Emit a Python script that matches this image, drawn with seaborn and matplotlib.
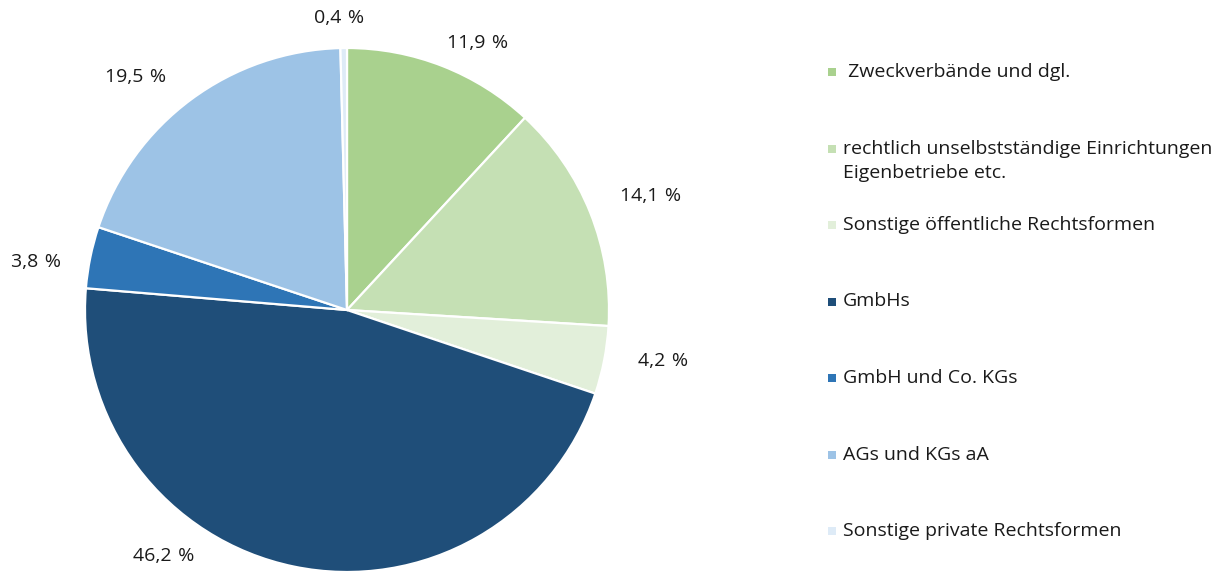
import numpy as np
import matplotlib.pyplot as plt
from matplotlib.patches import Rectangle
import seaborn as sns

# data
categories = [
    " Zweckverbände und dgl.",
    "rechtlich unselbstständige Einrichtungen\nEigenbetriebe etc.",
    "Sonstige öffentliche Rechtsformen",
    "GmbHs",
    "GmbH und Co. KGs",
    "AGs und KGs aA",
    "Sonstige private Rechtsformen",
]
shares = [11.9, 14.1, 4.2, 46.2, 3.8, 19.5, 0.4]
colors = ["#A9D18E", "#C5E0B4", "#E2EFDA", "#1F4E79", "#2E75B6", "#9DC3E6", "#DEEBF7"]

# label placement (radius factor, angle shift in degrees)
label_r = [1.134, 1.237, 1.22, 1.17, 1.20, 1.20, 1.115]
label_shift = [-4.7, -1.2, 1.9, -25.0, 2.9, 5.8, 0.9]

sns.set_theme(style="white")
plt.rcParams["font.family"] = ["Open Sans", "DejaVu Sans"]
FS = 14
TXT = "#1a1a1a"

W, H = 1217, 571
fig = plt.figure(figsize=(W / 100, H / 100), dpi=100)

cx, cy, r = 347, 310, 262
ax = fig.add_axes([(cx - r) / W, (H - cy - r) / H, 2 * r / W, 2 * r / H])
wedges, _ = ax.pie(
    shares,
    colors=colors,
    startangle=90,
    counterclock=False,
    radius=1,
    wedgeprops=dict(edgecolor="white", linewidth=1.6),
)
ax.set_xlim(-1, 1)
ax.set_ylim(-1, 1)
ax.set_aspect("equal")
ax.axis("off")

for w, val, rf, sh in zip(wedges, shares, label_r, label_shift):
    ang = np.deg2rad((w.theta1 + w.theta2) / 2 + sh)
    ax.text(rf * np.cos(ang), rf * np.sin(ang), f"{val:.1f}\u2009\u2009%".replace(".", ","),
            ha="center", va="center", fontsize=FS, color=TXT, clip_on=False)

# legend drawn in pixel coordinates
lax = fig.add_axes([0, 0, 1, 1])
lax.set_xlim(0, W)
lax.set_ylim(H, 0)
lax.axis("off")
lax.patch.set_alpha(0)
y0, dy = 77, 76.5
for i, (name, c) in enumerate(zip(categories, colors)):
    y = y0 + i * dy
    lax.add_patch(Rectangle((828, y - 9), 8, 8, facecolor=c, edgecolor="none"))
    for k, line in enumerate(name.split("\n")):
        lax.text(843, y + k * 25, line, ha="left", va="baseline", fontsize=FS, color=TXT)

fig.savefig("out.png", dpi=100)
